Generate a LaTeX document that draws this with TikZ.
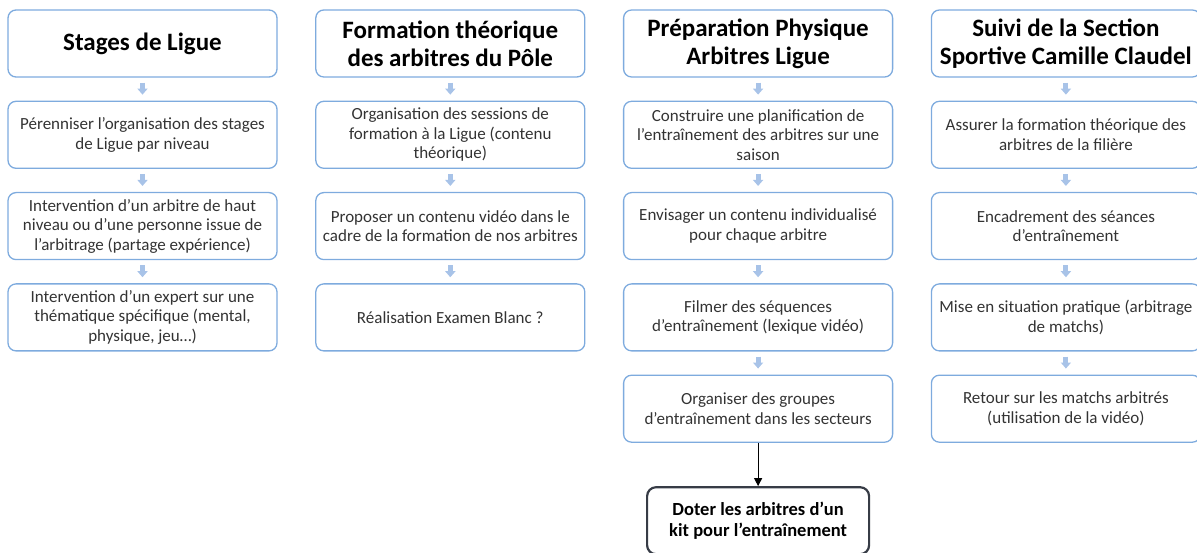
\documentclass[tikz,border=0pt]{standalone}
\usepackage{fontspec}
\setmainfont{Carlito}
\usetikzlibrary{positioning,arrows.meta}
\definecolor{boxline}{RGB}{126,171,222}
\definecolor{smallarr}{RGB}{168,195,232}
\definecolor{kitline}{RGB}{55,60,70}

\begin{document}
\begin{tikzpicture}[x=1pt, y=1pt, node distance=91.3pt,
    head/.style={draw=boxline, line width=1.3pt, rounded corners=8pt, rectangle,
        minimum width=269pt, minimum height=67pt, inner xsep=2pt, align=center,
        font=\fontsize{25}{28}\selectfont\bfseries},
    task/.style={draw=boxline, line width=1.3pt, rounded corners=8pt, rectangle,
        minimum width=269pt, minimum height=67pt, align=center, text=black!80,
        font=\fontsize{17}{19.5}\selectfont},
    kitbox/.style={draw=kitline, line width=2.2pt, rounded corners=9pt, rectangle,
        minimum width=222pt, minimum height=67pt, align=center,
        font=\fontsize{18.5}{20.5}\selectfont\bfseries},
    flow/.style={smallarr, line width=5pt, -{Triangle[width=10pt,length=6pt]},
        shorten <=5pt, shorten >=6pt}]

    \useasboundingbox (0,0) rectangle (1197,-553);
    \clip (0,0) rectangle (1197,-553);

    % Nodes
    \node (stages) [head] at (142.5,-43.5) {Stages de Ligue};
    \node (stages1) [below of=stages, task] {Pérenniser l’organisation des stages\\de Ligue par niveau};
    \node (stages2) [below of=stages1, task] {Intervention d’un arbitre de haut\\niveau ou d’une personne issue de\\l’arbitrage (partage expérience)};
    \node (stages3) [below of=stages2, task] {Intervention d’un expert sur une\\thématique spécifique (mental,\\physique, jeu…)};

    \node (formation) [head] at (450.3,-43.5) {Formation théorique\\des arbitres du Pôle};
    \node (formation1) [below of=formation, task] {Organisation des sessions de\\formation à la Ligue (contenu\\théorique)};
    \node (formation2) [below of=formation1, task] {Proposer un contenu vidéo dans le\\cadre de la formation de nos arbitres};
    \node (formation3) [below of=formation2, task] {Réalisation Examen Blanc ?};

    \node (prepa) [head] at (758.1,-43.5) {Préparation Physique\\Arbitres Ligue};
    \node (prepa1) [below of=prepa, task] {Construire une planification de\\l’entraînement des arbitres sur une\\saison};
    \node (prepa2) [below of=prepa1, task] {Envisager un contenu individualisé\\pour chaque arbitre};
    \node (prepa3) [below of=prepa2, task] {Filmer des séquences\\d’entraînement (lexique vidéo)};
    \node (prepa4) [below of=prepa3, task] {Organiser des groupes\\d’entraînement dans les secteurs};
    \node (kit) [node distance=112pt, below of=prepa4, kitbox] {Doter les arbitres d’un\\kit pour l’entraînement};

    \node (suivi) [head] at (1065.9,-43.5) {Suivi de la Section\\Sportive Camille Claudel};
    \node (suivi1) [below of=suivi, task] {Assurer la formation théorique des\\arbitres de la filière};
    \node (suivi2) [below of=suivi1, task] {Encadrement des séances\\d’entraînement};
    \node (suivi3) [below of=suivi2, task] {Mise en situation pratique (arbitrage\\de matchs)};
    \node (suivi4) [below of=suivi3, task] {Retour sur les matchs arbitrés\\(utilisation de la vidéo)};

    % Arrows
    \draw[flow] (stages) -- (stages1);
    \draw[flow] (stages1) -- (stages2);
    \draw[flow] (stages2) -- (stages3);
    \draw[flow] (formation) -- (formation1);
    \draw[flow] (formation1) -- (formation2);
    \draw[flow] (formation2) -- (formation3);
    \draw[flow] (prepa) -- (prepa1);
    \draw[flow] (prepa1) -- (prepa2);
    \draw[flow] (prepa2) -- (prepa3);
    \draw[flow] (prepa3) -- (prepa4);
    \draw[flow] (suivi) -- (suivi1);
    \draw[flow] (suivi1) -- (suivi2);
    \draw[flow] (suivi2) -- (suivi3);
    \draw[flow] (suivi3) -- (suivi4);
    \draw[-{Triangle[width=8pt,length=8pt]}, line width=1.2pt] (prepa4) -- (kit);
\end{tikzpicture}
\end{document}
